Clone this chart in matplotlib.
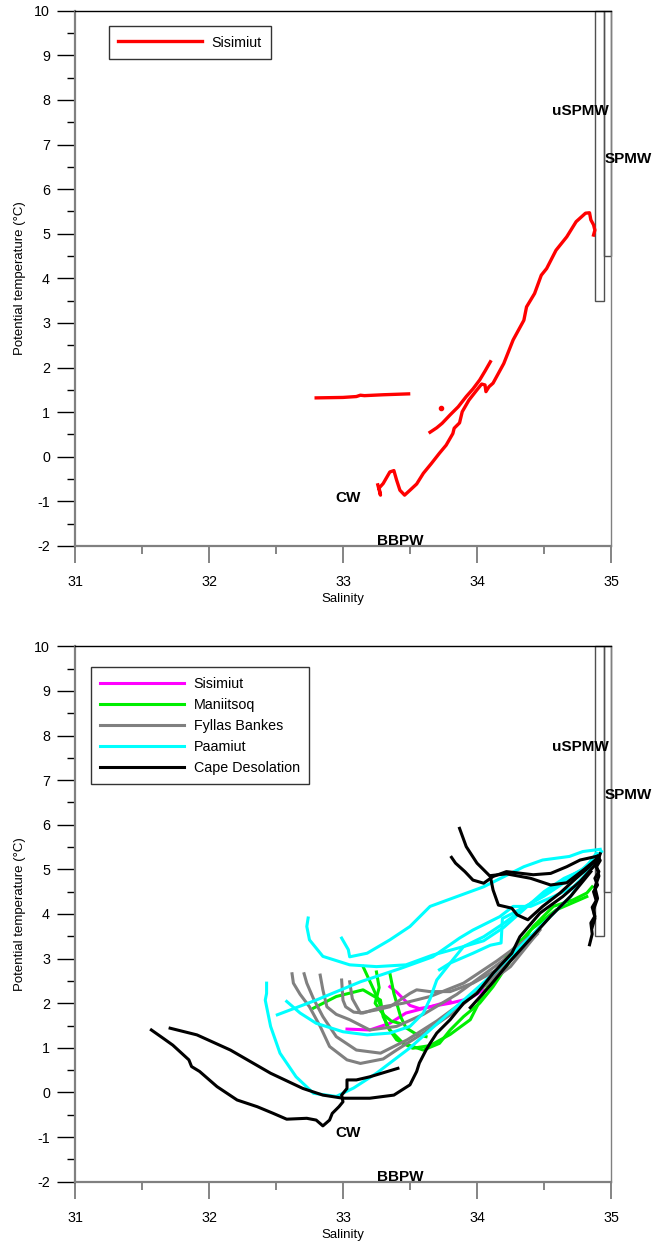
import matplotlib
matplotlib.use("Agg")
import matplotlib.pyplot as plt
from matplotlib.patches import Rectangle

plt.rcParams['font.family'] = ['Liberation Sans', 'DejaVu Sans']
plt.rcParams['font.size'] = 9
plt.rcParams['axes.unicode_minus'] = False

# ---- top panel: Sisimiut only ----
red_main_sal = [33.26, 33.28, 33.27, 33.30, 33.35, 33.38, 33.40, 33.425, 33.46, 33.50, 33.55, 33.60, 33.66,
                33.72, 33.77, 33.82, 33.83, 33.87, 33.89, 33.94, 34.00, 34.035, 34.06, 34.067, 34.09, 34.12,
                34.20, 34.27, 34.35, 34.37, 34.43, 34.48, 34.52, 34.59, 34.67, 34.74, 34.81, 34.84, 34.85,
                34.87, 34.88, 34.87]
red_main_temp = [-0.63, -0.86, -0.70, -0.60, -0.34, -0.31, -0.52, -0.75, -0.86, -0.75, -0.61, -0.37, -0.15,
                 0.08, 0.26, 0.52, 0.64, 0.76, 1.01, 1.27, 1.50, 1.63, 1.61, 1.46, 1.57, 1.65,
                 2.09, 2.62, 3.06, 3.36, 3.66, 4.07, 4.22, 4.63, 4.93, 5.27, 5.46, 5.47, 5.31,
                 5.20, 5.08, 4.97]
red_branch_sal = [33.65, 33.70, 33.74, 33.80, 33.86, 33.92, 33.97, 34.02, 34.06, 34.10]
red_branch_temp = [0.55, 0.65, 0.75, 0.94, 1.12, 1.35, 1.52, 1.72, 1.92, 2.13]
red_flat_sal = [32.80, 33.00, 33.10, 33.13, 33.16, 33.30, 33.49]
red_flat_temp = [1.32, 1.33, 1.35, 1.38, 1.37, 1.39, 1.41]
red_dot_sal = [33.73]
red_dot_temp = [1.10]

# ---- bottom panel: all stations ----
sis_1_sal = [33.03, 33.20, 33.35, 33.47, 33.65, 33.80, 33.95, 34.05]
sis_1_temp = [1.42, 1.40, 1.55, 1.78, 1.92, 2.00, 2.11, 2.30]
sis_2_sal = [33.35, 33.40, 33.45, 33.50, 33.57, 33.65, 33.72, 33.80]
sis_2_temp = [2.37, 2.25, 2.10, 1.95, 1.88, 1.92, 1.98, 2.05]

man_1_sal = [32.78, 32.95, 33.15, 33.28, 33.30, 33.35, 33.45, 33.60, 33.72, 33.80, 33.90, 34.02, 34.12,
             34.27, 34.42, 34.57, 34.72, 34.82, 34.86]
man_1_temp = [1.89, 2.15, 2.30, 2.07, 1.70, 1.40, 1.10, 0.95, 1.10, 1.40, 1.70, 2.00, 2.37,
              3.05, 3.72, 4.17, 4.32, 4.47, 4.61]
man_2_sal = [33.15, 33.23, 33.28, 33.33, 33.40, 33.52, 33.65, 33.80, 33.95, 34.05, 34.22, 34.40, 34.59, 34.82]
man_2_temp = [2.82, 2.30, 1.95, 1.48, 1.18, 0.99, 1.05, 1.30, 1.63, 2.22, 3.04, 3.64, 4.09, 4.39]
man_3_sal = [33.35, 33.38, 33.43, 33.47, 33.55, 33.62]
man_3_temp = [2.67, 2.22, 1.70, 1.45, 1.30, 1.25]
man_4_sal = [33.25, 33.27, 33.24, 33.30, 33.36, 33.42]
man_4_temp = [2.70, 2.35, 2.00, 1.75, 1.60, 1.55]

fyl_1_sal = [32.62, 32.63, 32.68, 32.75, 32.83, 32.90, 33.03, 33.13, 33.30, 33.40, 33.60, 33.82, 34.05, 34.25, 34.47]
fyl_1_temp = [2.66, 2.45, 2.20, 1.92, 1.48, 1.03, 0.73, 0.65, 0.75, 0.95, 1.33, 1.78, 2.37, 2.82, 3.64]
fyl_2_sal = [32.71, 32.73, 32.78, 32.85, 32.95, 33.10, 33.28, 33.48, 33.70, 33.95, 34.20, 34.45]
fyl_2_temp = [2.66, 2.45, 2.10, 1.70, 1.25, 0.95, 0.88, 1.18, 1.60, 2.15, 2.80, 3.55]
fyl_3_sal = [32.83, 32.85, 32.88, 32.95, 33.05, 33.20, 33.40, 33.60, 33.85, 34.10, 34.35]
fyl_3_temp = [2.63, 2.30, 1.92, 1.75, 1.63, 1.40, 1.48, 1.75, 2.20, 2.75, 3.30]
fyl_4_sal = [32.99, 33.00, 33.02, 33.08, 33.15, 33.30, 33.45, 33.65, 33.90, 34.15, 34.40]
fyl_4_temp = [2.52, 2.07, 1.92, 1.80, 1.78, 1.92, 2.00, 2.15, 2.45, 2.95, 3.50]
fyl_5_sal = [33.05, 33.07, 33.13, 33.25, 33.35, 33.50, 33.55, 33.65, 33.80, 33.97, 34.15, 34.30, 34.47]
fyl_5_temp = [2.48, 2.10, 1.78, 1.85, 1.92, 2.22, 2.30, 2.26, 2.26, 2.45, 2.75, 3.10, 3.70]

paa_1_sal = [32.74, 32.73, 32.75, 32.85, 33.05, 33.25, 33.47, 33.67, 33.90, 34.05, 34.20, 34.37, 34.54,
             34.69, 34.82, 34.89]
paa_1_temp = [3.91, 3.72, 3.42, 3.05, 2.86, 2.82, 2.86, 3.08, 3.27, 3.49, 3.79, 4.17, 4.54,
              4.84, 5.06, 5.36]
paa_2_sal = [32.99, 33.04, 33.05, 33.18, 33.35, 33.50, 33.65, 33.85, 34.05, 34.35, 34.49, 34.69, 34.79, 34.92]
paa_2_temp = [3.46, 3.20, 3.04, 3.12, 3.42, 3.72, 4.17, 4.39, 4.61, 5.06, 5.21, 5.29, 5.40, 5.45]
paa_3_sal = [32.51, 32.80, 33.13, 33.43, 33.67, 33.87, 33.97, 34.17, 34.27, 34.40, 34.57, 34.72, 34.82]
paa_3_temp = [1.74, 2.07, 2.48, 2.78, 3.04, 3.46, 3.64, 3.94, 4.17, 4.17, 4.39, 4.61, 4.91]
paa_4_sal = [32.43, 32.43, 32.42, 32.46, 32.53, 32.65, 32.78, 32.95, 33.08, 33.25, 33.50, 33.80, 34.10,
             34.40, 34.70, 34.88]
paa_4_temp = [2.45, 2.22, 2.07, 1.48, 0.88, 0.35, -0.02, -0.09, 0.10, 0.43, 1.00, 1.80, 2.60,
              3.50, 4.40, 5.20]
paa_5_sal = [32.58, 32.68, 32.80, 33.00, 33.18, 33.35, 33.50, 33.60, 33.65, 33.70, 33.80, 33.90, 34.05,
             34.20, 34.35, 34.50, 34.65, 34.80, 34.90]
paa_5_temp = [2.04, 1.78, 1.55, 1.36, 1.29, 1.33, 1.48, 1.78, 2.10, 2.52, 2.90, 3.27, 3.40,
              3.70, 4.10, 4.50, 4.80, 5.00, 5.35]
paa_6_sal = [33.72, 33.80, 33.97, 34.10, 34.18, 34.19, 34.27, 34.50, 34.75, 34.93]
paa_6_temp = [2.75, 2.90, 3.12, 3.30, 3.35, 3.90, 4.02, 4.40, 4.90, 5.40]

cap_1_sal = [31.57, 31.66, 31.73, 31.85, 31.87, 31.93, 32.06, 32.21, 32.36, 32.48, 32.58, 32.73, 32.80,
             32.85, 32.90, 32.92, 32.97, 33.00, 32.99, 33.03, 33.03, 33.10, 33.20, 33.41]
cap_1_temp = [1.40, 1.21, 1.06, 0.73, 0.58, 0.47, 0.13, -0.17, -0.32, -0.47, -0.60, -0.58, -0.62,
              -0.75, -0.62, -0.47, -0.32, -0.21, -0.06, 0.09, 0.28, 0.28, 0.35, 0.54]
cap_2_sal = [31.71, 31.91, 32.16, 32.46, 32.70, 32.85, 33.00, 33.20, 33.38, 33.50, 33.55, 33.57, 33.62,
             33.65, 33.70, 33.80, 33.90, 34.00, 34.12, 34.26, 34.32, 34.47, 34.64, 34.77, 34.87, 34.91]
cap_2_temp = [1.44, 1.29, 0.95, 0.43, 0.09, -0.06, -0.13, -0.13, -0.06, 0.17, 0.47, 0.66, 0.95,
              1.10, 1.33, 1.63, 2.00, 2.22, 2.67, 3.12, 3.49, 4.02, 4.39, 4.73, 5.06, 5.25]
cap_3_sal = [33.87, 33.92, 34.00, 34.10, 34.12, 34.16, 34.26, 34.30, 34.38, 34.49, 34.62, 34.74, 34.84, 34.91]
cap_3_temp = [5.92, 5.51, 5.14, 4.84, 4.54, 4.20, 4.13, 3.98, 3.87, 4.17, 4.47, 4.80, 5.06, 5.29]
cap_4_sal = [33.81, 33.84, 33.91, 33.97, 34.05, 34.12, 34.22, 34.42, 34.55, 34.67, 34.77, 34.89]
cap_4_temp = [5.27, 5.14, 4.95, 4.76, 4.69, 4.84, 4.95, 4.88, 4.91, 5.06, 5.21, 5.29]
cap_5_sal = [33.95, 34.10, 34.25, 34.40, 34.55, 34.70, 34.85]
cap_5_temp = [1.90, 2.40, 2.95, 3.45, 3.95, 4.40, 4.95]
cap_6_sal = [34.10, 34.22, 34.40, 34.55, 34.67, 34.80, 34.90]
cap_6_temp = [4.86, 4.90, 4.80, 4.65, 4.70, 5.00, 5.25]
cap_7_sal = [34.84, 34.86, 34.85, 34.88, 34.86, 34.89, 34.87, 34.90, 34.88, 34.91, 34.89, 34.92, 34.90]
cap_7_temp = [3.31, 3.55, 3.80, 3.95, 4.15, 4.30, 4.50, 4.65, 4.80, 4.95, 5.05, 5.20, 5.30]
cap_8_sal = [34.86, 34.88, 34.87, 34.90, 34.88, 34.91, 34.89, 34.92]
cap_8_temp = [3.70, 3.90, 4.10, 4.35, 4.60, 4.85, 5.10, 5.35]

stations = ['Sisimiut', 'Maniitsoq', 'Fyllas Bankes', 'Paamiut', 'Cape Desolation']
colors = ['#FF00FF', '#00EE00', '#808080', '#00FFFF', '#000000']
casts = [
    [(sis_1_sal, sis_1_temp), (sis_2_sal, sis_2_temp)],
    [(man_1_sal, man_1_temp), (man_2_sal, man_2_temp), (man_3_sal, man_3_temp), (man_4_sal, man_4_temp)],
    [(fyl_1_sal, fyl_1_temp), (fyl_2_sal, fyl_2_temp), (fyl_3_sal, fyl_3_temp), (fyl_4_sal, fyl_4_temp),
     (fyl_5_sal, fyl_5_temp)],
    [(paa_1_sal, paa_1_temp), (paa_2_sal, paa_2_temp), (paa_3_sal, paa_3_temp), (paa_4_sal, paa_4_temp),
     (paa_5_sal, paa_5_temp), (paa_6_sal, paa_6_temp)],
    [(cap_1_sal, cap_1_temp), (cap_2_sal, cap_2_temp), (cap_3_sal, cap_3_temp), (cap_4_sal, cap_4_temp),
     (cap_5_sal, cap_5_temp), (cap_6_sal, cap_6_temp), (cap_7_sal, cap_7_temp), (cap_8_sal, cap_8_temp)],
]


def style_axes(ax):
    ax.set_xlim(31, 35)
    ax.set_ylim(-2, 10)
    ax.set_xticks([31, 32, 33, 34, 35])
    ax.set_xticks([31.5, 32.5, 33.5, 34.5], minor=True)
    ax.set_yticks(range(-2, 11))
    ax.set_yticks([y + 0.5 for y in range(-2, 10)], minor=True)
    ax.spines['left'].set_color('#808080')
    ax.spines['left'].set_linewidth(1.6)
    ax.spines['bottom'].set_color('#808080')
    ax.spines['bottom'].set_linewidth(1.6)
    ax.spines['right'].set_color('#808080')
    ax.spines['right'].set_linewidth(1.0)
    ax.spines['top'].set_color('black')
    ax.spines['top'].set_linewidth(1.0)
    ax.tick_params(axis='y', which='major', direction='out', length=13, width=1, color='black', pad=5)
    ax.tick_params(axis='y', which='minor', direction='out', length=6, width=1, color='black')
    ax.tick_params(axis='x', which='major', direction='out', length=12, width=1.2, color='#707070', pad=9)
    ax.tick_params(axis='x', which='minor', direction='out', length=6, width=1.2, color='#707070')
    ax.tick_params(labelsize=10.3)
    ax.set_xlabel('Salinity', fontsize=9.5, labelpad=3)
    ax.set_ylabel('Potential temperature (°C)', fontsize=9.5, labelpad=6)
    # water mass boxes
    ax.add_patch(Rectangle((34.88, 3.5), 0.07, 6.5, fill=False, ec='#505050', lw=1, clip_on=False))
    ax.add_patch(Rectangle((34.95, 4.5), 0.05, 5.5, fill=False, ec='#505050', lw=1, clip_on=False))
    kw = dict(fontsize=11, fontweight='bold', va='center', clip_on=False)
    ax.text(34.985, 7.75, 'uSPMW', ha='right', **kw)
    ax.text(34.955, 6.67, 'SPMW', ha='left', **kw)
    ax.text(32.94, -0.92, 'CW', ha='left', **kw)
    ax.text(33.256, -1.89, 'BBPW', ha='left', **kw)


fig = plt.figure(figsize=(6.6, 12.42), dpi=100)
ax1 = fig.add_axes([0.1136, 0.5604, 0.8121, 0.431])
ax2 = fig.add_axes([0.1136, 0.0486, 0.8121, 0.431])

# top panel
ax1.plot(red_main_sal, red_main_temp, color='red', lw=2.4, label='Sisimiut')
ax1.plot(red_branch_sal, red_branch_temp, color='red', lw=2.4)
ax1.plot(red_flat_sal, red_flat_temp, color='red', lw=2.4)
ax1.plot(red_dot_sal, red_dot_temp, 'o', color='red', ms=3)
style_axes(ax1)
leg1 = ax1.legend(loc='upper left', bbox_to_anchor=(0.063, 0.971), borderaxespad=0, frameon=True,
                  fancybox=False, edgecolor='black', fontsize=10.3, handlelength=5.9,
                  handletextpad=0.65, borderpad=0.65)
leg1.get_frame().set_linewidth(1)

# bottom panel
for name, col, cl in zip(stations, colors, casts):
    for i, (s, t) in enumerate(cl):
        ax2.plot(s, t, color=col, lw=2.2, label=name if i == 0 else None)
style_axes(ax2)
leg2 = ax2.legend(loc='upper left', bbox_to_anchor=(0.029, 0.961), borderaxespad=0, frameon=True,
                  fancybox=False, edgecolor='black', fontsize=10.3, handlelength=5.9,
                  handletextpad=0.65, borderpad=0.65, labelspacing=0.5)
leg2.get_frame().set_linewidth(1)

plt.savefig('out.png', dpi=100)
plt.close()
